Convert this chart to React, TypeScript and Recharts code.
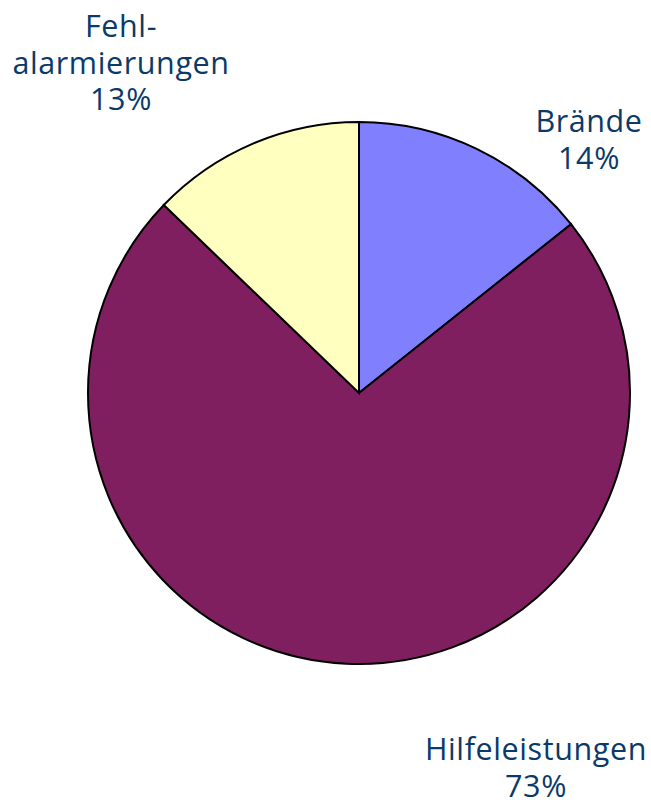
import React from "react";
import { PieChart, Pie, Cell } from "recharts";

const categories = ["Brände", "Hilfeleistungen", "Fehlalarmierungen"];
const labelLines = [["Brände"], ["Hilfeleistungen"], ["Fehl-", "alarmierungen"]];
const values = [14.3, 72.9, 12.8];
const colors = ["#8080ff", "#7f1f5f", "#ffffc0"];

const data = categories.map((name, i) => ({ name, value: values[i] }));

// label anchor offsets (baseline of first line) relative to the pie center
const LABEL_OFFSETS = [
  { dx: 230, dy: -261 },
  { dx: 177, dy: 367 },
  { dx: -238, dy: -356 },
];

const renderLabel = (props: any) => {
  const { cx, cy, index, percent } = props;
  const off = LABEL_OFFSETS[index];
  const x = cx + off.dx;
  const y = cy + off.dy;
  const lines = [...labelLines[index], `${Math.round(percent * 100)}%`];
  return (
    <text
      x={x}
      y={y}
      textAnchor="middle"
      fill="#0b3a68"
      fontFamily="'Open Sans', sans-serif"
      fontSize={30.5}
      letterSpacing={0.6}
    >
      {lines.map((l, i) => (
        <tspan key={i} x={x} dy={i === 0 ? 0 : 36.5}>
          {l}
        </tspan>
      ))}
    </text>
  );
};

export default function App() {
  return (
    <div style={{ position: "absolute", left: 0, top: 0, width: 651, height: 803, background: "#fff" }}>
      <PieChart width={651} height={803} margin={{ top: 0, right: 0, bottom: 0, left: 0 }}>
        <Pie
          data={data}
          dataKey="value"
          nameKey="name"
          cx={359}
          cy={393}
          innerRadius={0}
          outerRadius={271}
          startAngle={90}
          endAngle={-270}
          stroke="#000"
          strokeWidth={2}
          label={renderLabel}
          labelLine={false}
          isAnimationActive={false}
        >
          {data.map((d, i) => (
            <Cell key={d.name} fill={colors[i]} />
          ))}
        </Pie>
      </PieChart>
    </div>
  );
}
